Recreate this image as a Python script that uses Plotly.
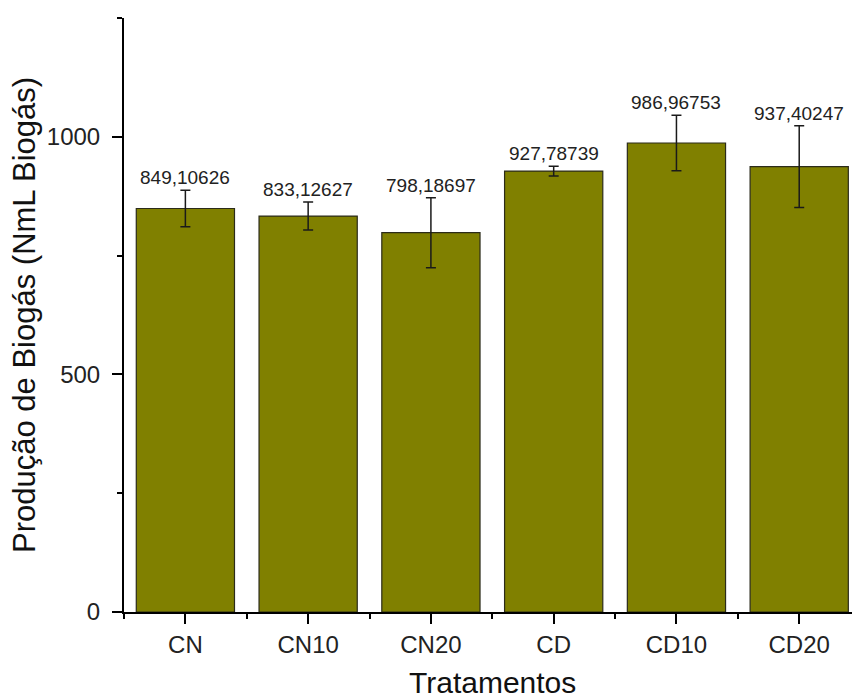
import plotly.graph_objects as go

# Biogas production per treatment (NmL), mean and standard deviation
categories = ["CN", "CN10", "CN20", "CD", "CD10", "CD20"]
production = [849.10626, 833.12627, 798.18697, 927.78739, 986.96753, 937.40247]
std_dev = [38.5, 29.5, 73.5, 10.5, 58.5, 86.0]

y_ticks = [0, 500, 1000]

FONT = "Liberation Sans, Arial, sans-serif"
positions = list(range(len(categories)))

fig = go.Figure()
fig.add_trace(go.Bar(
    x=positions,
    y=production,
    width=0.8,
    marker=dict(color="#808000", line=dict(color="#2b2b1a", width=1.2)),
    error_y=dict(type="data", array=std_dev, visible=True,
                 color="#1a1a1a", thickness=1.5, width=5),
    hoverinfo="x+y",
))

# value labels above each error bar
for xi, v, e in zip(positions, production, std_dev):
    fig.add_annotation(
        x=xi, y=v + e, xref="x", yref="y",
        text=f"{v:.5f}".replace(".", ","),
        showarrow=False, yanchor="bottom", yshift=0,
        font=dict(family=FONT, size=19, color="#222222"),
    )

# axis titles
fig.add_annotation(
    x=2.5, y=0, xref="x", yref="paper", yanchor="top", yshift=-52,
    text="Tratamentos", showarrow=False,
    font=dict(family=FONT, size=30, color="#111111"),
)
fig.add_annotation(
    x=0, y=0.5, xref="paper", yref="paper", xshift=-100,
    xanchor="center", yanchor="middle", textangle=-90,
    text="Produção de Biogás (NmL Biogás)", showarrow=False,
    font=dict(family=FONT, size=31, color="#111111"),
)

fig.update_layout(
    width=852, height=700,
    margin=dict(l=124, r=0, t=18, b=88),
    plot_bgcolor="white", paper_bgcolor="white",
    showlegend=False,
    font=dict(family=FONT, size=24, color="#222222"),
)

fig.update_xaxes(
    type="linear", range=[-0.5, 5.43],
    tickmode="array", tickvals=positions, ticktext=categories,
    ticks="outside", ticklen=10, tickwidth=2, tickcolor="black",
    showline=True, linewidth=2, linecolor="black",
    showgrid=False, zeroline=False,
    tickfont=dict(family=FONT, size=24, color="#222222"),
    minor=dict(tickmode="array", tickvals=[p - 0.5 for p in positions] + [positions[-1] + 0.5],
               ticks="outside", ticklen=5, tickwidth=2, tickcolor="black"),
)
fig.update_yaxes(
    range=[0, 1250],
    tickmode="array", tickvals=y_ticks,
    ticks="outside", ticklen=10, tickwidth=2, tickcolor="black",
    ticklabelstandoff=7,
    showline=True, linewidth=2, linecolor="black",
    showgrid=False, zeroline=False,
    tickfont=dict(family=FONT, size=24, color="#222222"),
    minor=dict(dtick=250, ticks="outside", ticklen=5, tickwidth=2, tickcolor="black", showgrid=False),
)

fig.write_html("out.html")
